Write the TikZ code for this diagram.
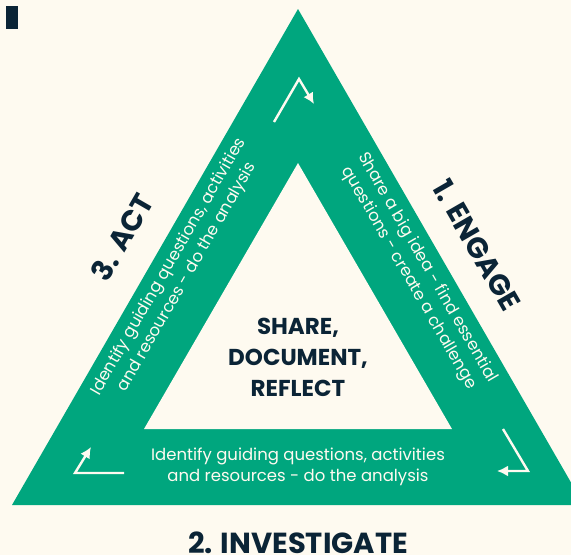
\documentclass[tikz,border=0pt]{standalone}
\usepackage{fontspec}
\setmainfont{Poppins}
\usepackage{tikz}
\usetikzlibrary{arrows.meta}
\definecolor{cream}{HTML}{FEFAF0}
\definecolor{cyclegreen}{HTML}{00A67E}
\definecolor{inkblue}{HTML}{0B2436}
\tikzset{cycle-arrow/.style={->, >={Latex[length=11pt, width=11pt]}, line width=2.4pt, draw=cream}}
\tikzset{stage-title/.style={text=inkblue, font=\fontsize{29}{33}\selectfont\bfseries, inner sep=0pt}}
\tikzset{core-text/.style={text=inkblue, align=center, font=\fontsize{23}{31}\selectfont\bfseries, inner sep=0pt}}
\tikzset{band-text/.style={text=cream, align=center, font=\fontsize{16.5}{21}\selectfont, inner sep=0pt}}

\begin{document}
\begin{tikzpicture}[x=1pt, y=-1pt]
      \useasboundingbox (0,0) rectangle (571,555);
      \fill[cream] (0,0) rectangle (571,555);
      \fill[inkblue] (6,6) rectangle (18,29);

      % outer and inner triangle
      \begin{scope}
        \clip (0,0) rectangle (571,555);
        \fill[cyclegreen] (298,9) -- (12,505) -- (584,505) -- cycle;
      \end{scope}
      \fill[cream] (298,163) -- (144,429) -- (452,429) -- cycle;

      \node[core-text] (core) at (298,357) {SHARE,\\DOCUMENT,\\REFLECT};

      \node[stage-title, anchor=base] (investigate) at (298,553) {2. INVESTIGATE};
      \node[stage-title, rotate=-60] (engage) at (477,245) {1. ENGAGE};
      \node[stage-title, rotate=60] (act) at (122,237) {3. ACT};

      \node[band-text, rotate=-60] (share) at (418,273)
        {Share a big idea - find essential\\questions - create a challenge};
      \node[band-text, rotate=60] (identify) at (178,272)
        {Identify guiding questions, activities\\and resources - do the analysis};
      \node[band-text] (analyse) at (298,467)
        {Identify guiding questions, activities\\and resources - do the analysis};

      % corner arrows
      \coordinate (top-a) at (274,122);
      \coordinate (top-b) at (299,79);
      \coordinate (top-c) at (314,104);
      \coordinate (right-a) at (503,429);
      \coordinate (right-b) at (528,471);
      \coordinate (right-c) at (497,471);
      \coordinate (left-a) at (124,473);
      \coordinate (left-b) at (75,473);
      \coordinate (left-c) at (91,447);

      \draw[cycle-arrow] (top-a) -- (top-b) -- (top-c);
      \draw[cycle-arrow] (right-a) -- (right-b) -- (right-c);
      \draw[cycle-arrow] (left-a) -- (left-b) -- (left-c);
\end{tikzpicture}
\end{document}
